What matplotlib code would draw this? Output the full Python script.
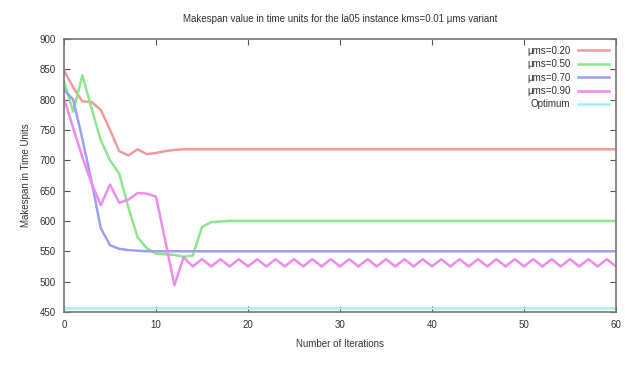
import matplotlib
matplotlib.use("Agg")
import matplotlib.pyplot as plt

plt.rcParams['font.family'] = ['Liberation Sans', 'DejaVu Sans']

iterations = list(range(61))

mu_020 = [848, 820, 797, 796, 783, 750, 715, 708, 718, 710, 712, 715, 717, 718, 718,
          718, 718, 718, 718, 718, 718, 718, 718, 718, 718, 718, 718, 718, 718, 718,
          718, 718, 718, 718, 718, 718, 718, 718, 718, 718, 718, 718, 718, 718, 718,
          718, 718, 718, 718, 718, 718, 718, 718, 718, 718, 718, 718, 718, 718, 718, 718]
mu_050 = [830, 780, 840, 785, 733, 700, 678, 622, 573, 555, 546, 545, 544, 541, 543,
          590, 598, 599, 600, 600, 600, 600, 600, 600, 600, 600, 600, 600, 600, 600,
          600, 600, 600, 600, 600, 600, 600, 600, 600, 600, 600, 600, 600, 600, 600,
          600, 600, 600, 600, 600, 600, 600, 600, 600, 600, 600, 600, 600, 600, 600, 600]
mu_070 = [816, 800, 735, 665, 588, 560, 554, 552, 551, 550, 550, 550, 550, 550, 550,
          550, 550, 550, 550, 550, 550, 550, 550, 550, 550, 550, 550, 550, 550, 550,
          550, 550, 550, 550, 550, 550, 550, 550, 550, 550, 550, 550, 550, 550, 550,
          550, 550, 550, 550, 550, 550, 550, 550, 550, 550, 550, 550, 550, 550, 550, 550]
mu_090 = [802, 753, 705, 662, 626, 660, 630, 635, 646, 645, 640, 568, 494, 540, 525,
          537, 525, 537, 525, 537, 525, 537, 525, 537, 525, 537, 525, 537, 525, 537,
          525, 537, 525, 537, 525, 537, 525, 537, 525, 537, 525, 537, 525, 537, 525,
          537, 525, 537, 525, 537, 525, 537, 525, 537, 525, 537, 525, 537, 525, 537, 525]
optimum = [457] * 61

series = [
    ("\u03bcms=0.20", mu_020, "#f29a9a"),
    ("\u03bcms=0.50", mu_050, "#8ee68e"),
    ("\u03bcms=0.70", mu_070, "#9f9ff0"),
    ("\u03bcms=0.90", mu_090, "#ee8cee"),
    ("Optimum", optimum, "#a6f0f0"),
]

fig = plt.figure(figsize=(6.25, 3.67), dpi=100)
ax = fig.add_axes([0.1024, 0.150, 0.8832, 0.744])

for label, vals, color in series:
    ax.plot(iterations, vals, color=color, lw=1.8, label=label, solid_joinstyle='round')

ax.set_xlim(0, 60)
ax.set_ylim(450, 900)
ax.set_xticks(range(0, 61, 10))
ax.set_yticks(range(450, 901, 50))
ax.tick_params(direction='in', top=True, right=True, labelsize=7, length=4,
               color='#555555', labelcolor='#333333', pad=6)
for s in ax.spines.values():
    s.set_color('#777777')
    s.set_linewidth(1.2)

ax.set_title("Makespan value in time units for the la05 instance kms=0.01 \u03bcms variant",
             fontsize=7, color='#333333', pad=12)
ax.set_xlabel("Number of Iterations", fontsize=7, color='#333333', labelpad=6)
ax.set_ylabel("Makespan in Time Units", fontsize=7, color='#333333', labelpad=6)

leg = ax.legend(loc='upper right', frameon=False, markerfirst=False, fontsize=7,
                handlelength=3.2, handletextpad=0.8, labelspacing=0.35,
                borderaxespad=0.3)
for t in leg.get_texts():
    t.set_color('#333333')
    t.set_ha('right')

fig.savefig("out.png", dpi=100)
